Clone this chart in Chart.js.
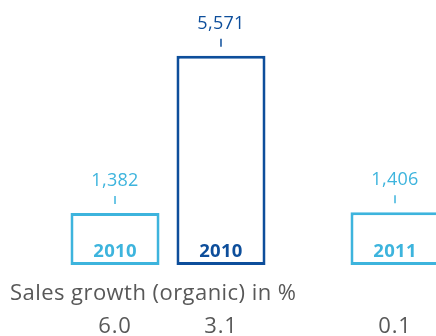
<!DOCTYPE html>
<html>
<head>
<meta charset="utf-8">
<script src="https://cdn.jsdelivr.net/npm/chart.js@4.4.0/dist/chart.umd.min.js"></script>
<style>
    html, body { margin: 0; padding: 0; overflow: hidden; background: #fff; }
    #wrap { width: 600px; height: 336px; }
</style>
</head>
<body>
<div id="wrap"><canvas id="salesChart" width="600" height="336"></canvas></div>
<script>
    // Dữ liệu
    const categories = ['2010', '2011'];
    const lightValues = [1382, 1406];
    const darkValues = [5571, null];
    const lightBarLabels = ['2010', '2011'];
    const darkBarLabels = ['2010', ''];
    const lightGrowth = ['6.0', '0.1'];
    const darkGrowth = ['3.1', null];
    const growthTitle = 'Sales growth (organic) in %';

    const LIGHT = '#3db4dd';
    const DARK = '#0d4e9b';
    const GRAY = '#585858';
    const FONT = '"Open Sans", "Noto Sans", sans-serif';

    // Plugin vẽ nhãn, vạch nhỏ và tăng trưởng
    const labelPlugin = {
        id: 'barLabels',
        afterDatasetsDraw(chart) {
            const ctx = chart.ctx;
            const area = chart.chartArea;
            ctx.save();
            chart.data.datasets.forEach((ds, di) => {
                const meta = chart.getDatasetMeta(di);
                meta.data.forEach((bar, i) => {
                    const v = ds.data[i];
                    if (v === null || v === undefined) return;
                    const top = bar.y;
                    ctx.fillStyle = ds.borderColor;
                    ctx.strokeStyle = ds.borderColor;
                    ctx.textAlign = 'center';
                    ctx.textBaseline = 'alphabetic';
                    ctx.letterSpacing = '0.3px';
                    ctx.font = '18px ' + FONT;
                    ctx.fillText(v.toLocaleString('en-US'), bar.x, top - 27);
                    // vạch nhỏ
                    ctx.lineWidth = 1.5;
                    ctx.beginPath();
                    ctx.moveTo(bar.x, top - 17);
                    ctx.lineTo(bar.x, top - 9);
                    ctx.stroke();
                    // nhãn năm trong cột
                    ctx.font = 'bold 18.5px ' + FONT;
                    ctx.fillText(ds.barLabels[i], bar.x, area.bottom - 8.5);
                    // tăng trưởng
                    if (ds.growth[i] !== null) {
                        ctx.fillStyle = GRAY;
                        ctx.font = '22px ' + FONT;
                        ctx.letterSpacing = '0.8px';
                        ctx.fillText(ds.growth[i], bar.x, 333);
                    }
                });
            });
            ctx.fillStyle = GRAY;
            ctx.textAlign = 'left';
            ctx.font = '22px ' + FONT;
            ctx.letterSpacing = '0.45px';
            ctx.fillText(growthTitle, 10, 300);
            ctx.restore();
        }
    };

    new Chart(document.getElementById('salesChart'), {
        type: 'bar',
        data: {
            labels: categories,
            datasets: [{
                data: lightValues,
                barLabels: lightBarLabels,
                growth: lightGrowth,
                backgroundColor: '#fff',
                borderColor: LIGHT,
                borderWidth: 3,
                borderSkipped: false,
                categoryPercentage: 0.757,
                barPercentage: 0.84
            }, {
                data: darkValues,
                barLabels: darkBarLabels,
                growth: darkGrowth,
                backgroundColor: '#fff',
                borderColor: DARK,
                borderWidth: 3,
                borderSkipped: false,
                categoryPercentage: 0.757,
                barPercentage: 0.84
            }]
        },
        options: {
            responsive: false,
            animation: false,
            layout: { padding: { left: 28, right: 12, top: 2, bottom: 71 } },
            plugins: { legend: { display: false }, tooltip: { enabled: false } },
            scales: {
                x: { display: false },
                y: { display: false, min: 0, max: 7000 }
            }
        },
        plugins: [labelPlugin]
    });
</script>
</body>
</html>
